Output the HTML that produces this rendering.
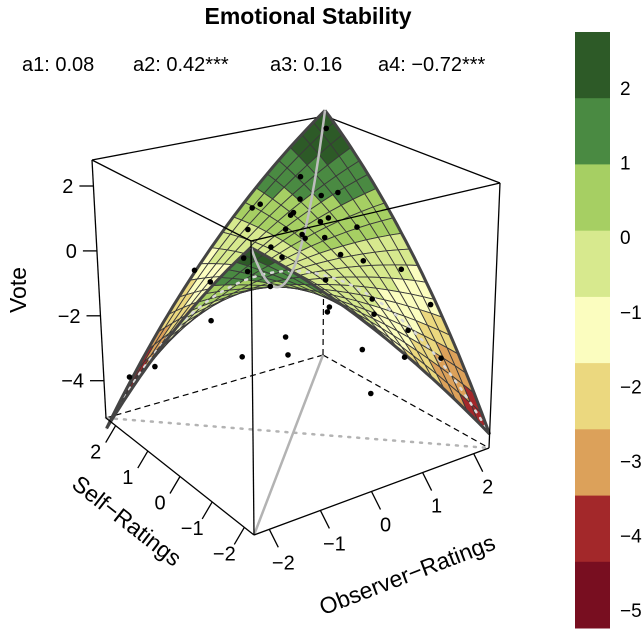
<!DOCTYPE html>
<html><head><meta charset="utf-8">
<style>
html,body{margin:0;padding:0;background:#fff;}
svg text{font-family:"Liberation Sans",Arial,sans-serif;fill:#000;}
</style></head>
<body>
<svg id="chart" width="644" height="630" viewBox="0 0 644 630" xmlns="http://www.w3.org/2000/svg">
<text x="308" y="24" font-size="23" font-weight="bold" text-anchor="middle">Emotional Stability</text>
<text x="22" y="71" font-size="20">a1: 0.08</text>
<text x="133" y="71" font-size="20">a2: 0.42***</text>
<text x="270" y="71" font-size="20">a3: 0.16</text>
<text x="378" y="71" font-size="20">a4: −0.72***</text>
<text transform="translate(26,290) rotate(-90)" font-size="23" text-anchor="middle">Vote</text>
<text transform="translate(122,527) rotate(38)" font-size="23" text-anchor="middle">Self−Ratings</text>
<text transform="translate(410,582) rotate(-21)" font-size="23" text-anchor="middle">Observer−Ratings</text>
<g id="back"></g><g id="surf"></g><g id="front"></g><g id="cbar"></g>
</svg>
<script>
// data
const ratingTicks = [-2,-1,0,1,2];
const voteTicks = [2,0,-2,-4];
const colorbarTicks = [2,1,0,-1,-2,-3,-4,-5];
const bandColors = ["#2d5a27","#4a8a42","#a6cf63","#d7e98e","#fbfdbf","#ebd87f","#dca15a","#a3282a","#780e20"];
const coefB0 = -0.09, coefB1 = 0.12, coefB2 = -0.04, coefB3 = -0.10, coefB4 = 0.747, coefB5 = -0.10;
const obsPts  = [2.1,1.3,1.6,0.2,0.6,0.9,-0.1,0.4,1.0,1.4,0.0,-0.4,0.8,1.2,0.3,-0.6,-0.2,0.5,1.1,1.7,0.7,-0.9,-1.2,0.1,0.9,1.5,-0.3,0.4,1.3,-1.5,-0.8,0.2,0.6,1.0,-1.9,0.3,1.8,2.0,-1.4,0.0,0.5,-0.5,1.2,0.8];
const selfPts = [2.0,1.6,1.0,1.4,0.9,0.5,1.1,0.3,1.2,0.2,0.6,0.8,-0.2,0.7,-0.5,0.4,0.0,0.9,-0.4,-0.6,0.1,1.5,0.6,-0.9,-1.0,-1.1,-0.3,-1.4,-1.3,1.9,1.2,-0.7,0.5,-0.8,2.1,-1.8,-1.6,-1.0,-0.6,0.2,1.6,-0.1,0.9,1.1];
const votePts = [2.6,1.5,1.2,1.0,0.9,0.8,0.6,0.7,1.1,0.6,0.3,0.0,0.2,0.7,-0.2,-0.1,0.4,0.5,0.0,-0.4,0.6,-0.6,-0.3,-0.7,-1.2,-1.9,-2.3,-1.8,-2.5,-3.6,-2.0,-1.0,0.4,-0.9,-3.9,-2.8,-2.6,-1.4,-1.7,-2.2,0.9,-0.3,1.3,0.8];
</script>
<script>
const NS="http://www.w3.org/2000/svg";
const R=2.3, ZMIN=-5.15, ZMAX=2.8;
const F0=[254,535],R0=[489,448],L0=[106,418],B0=[323,355];
const F1=[251,241],R1=[500,183],L1=[92,160],B1=[325,116];
function bil(a,b,c,d,u,v){return [a[0]*(1-u)*(1-v)+b[0]*u*(1-v)+c[0]*(1-u)*v+d[0]*u*v, a[1]*(1-u)*(1-v)+b[1]*u*(1-v)+c[1]*(1-u)*v+d[1]*u*v];}
function P(o,s,z){const u=(o+R)/(2*R),v=(s+R)/(2*R),w=(z-ZMIN)/(ZMAX-ZMIN);
 const b=bil(F0,R0,L0,B0,u,v),t=bil(F1,R1,L1,B1,u,v);return [b[0]+(t[0]-b[0])*w,b[1]+(t[1]-b[1])*w];}
function surfZ(x,y){return coefB0+coefB1*x+coefB2*y+coefB3*x*x+coefB4*x*y+coefB5*y*y;}
function zColor(z){const cmax=2.75,cmin=-5.24;let i=Math.floor((cmax-z)/((cmax-cmin)/9));i=Math.max(0,Math.min(8,i));return bandColors[i];}
function mk(g,tag,attrs){const e=document.createElementNS(NS,tag);for(const k in attrs)e.setAttribute(k,attrs[k]);document.getElementById(g).appendChild(e);return e;}
function line(g,a,b,st){return mk(g,'line',Object.assign({x1:a[0].toFixed(1),y1:a[1].toFixed(1),x2:b[0].toFixed(1),y2:b[1].toFixed(1)},st));}
const solid={stroke:'#000','stroke-width':1.3};
let e;
e=line('back',L1,B1,solid);
e=line('back',B1,R1,solid);
const dash={stroke:'#000','stroke-width':1.2,'stroke-dasharray':'6,4'};
e=line('back',B0,L0,dash);
e=line('back',B0,R0,dash);
e=line('back',B0,P(R,R,-1.2),dash);
e=line('back',F0,B0,{stroke:'#b3b3b3','stroke-width':2.5});
e=line('back',L0,R0,{stroke:'#b3b3b3','stroke-width':2.5,'stroke-dasharray':'2,7','stroke-linecap':'round'});
const N=20,cells=[];
for(let i=0;i<N;i++)for(let j=0;j<N;j++){
 const o0=-R+2*R*i/N,o1=-R+2*R*(i+1)/N,s0=-R+2*R*j/N,s1=-R+2*R*(j+1)/N;
 const om=(o0+o1)/2,sm=(s0+s1)/2,w=(surfZ(om,sm)-ZMIN)/(ZMAX-ZMIN);
 cells.push({o0,o1,s0,s1,d:((om+sm)/(2*R))*0.75-w*0.55});}
cells.sort((a,b)=>b.d-a.d);
cells.forEach(c=>{
 const pts=[[c.o0,c.s0],[c.o1,c.s0],[c.o1,c.s1],[c.o0,c.s1]].map(p=>P(p[0],p[1],surfZ(p[0],p[1])));
 const zm=surfZ((c.o0+c.o1)/2,(c.s0+c.s1)/2);
 const el=mk('surf','polygon',{points:pts.map(p=>p[0].toFixed(1)+','+p[1].toFixed(1)).join(' '),fill:zColor(zm),stroke:'#3a3a3a','stroke-width':0.9});
 
 
});
function edgePath(f){let d='';for(let k=0;k<=40;k++){const t=-R+2*R*k/40;const p=f(t);d+=(k?'L':'M')+p[0].toFixed(1)+','+p[1].toFixed(1);}return d;}
e=mk('surf','path',{d:edgePath(t=>P(t,-t,surfZ(t,-t))),fill:'none',stroke:'#d9d9d9','stroke-width':2.5,'stroke-dasharray':'2,7','stroke-linecap':'round'});

[[t=>P(t,-R,surfZ(t,-R)),'surface-edge-front-right'],[t=>P(-R,t,surfZ(-R,t)),'surface-edge-front-left'],[t=>P(t,R,surfZ(t,R)),'surface-edge-back-left'],[t=>P(R,t,surfZ(R,t)),'surface-edge-back-right']].forEach(a=>{
 const el=mk('surf','path',{d:edgePath(a[0]),fill:'none',stroke:'#444','stroke-width':3});
 
 
});
e=mk('surf','path',{d:edgePath(t=>P(t,t,surfZ(t,t))),fill:'none',stroke:'#bdbdbd','stroke-width':2.5});

for(let i=0;i<obsPts.length;i++){const p=P(obsPts[i],selfPts[i],votePts[i]);
 const el=mk('front','circle',{cx:p[0].toFixed(1),cy:p[1].toFixed(1),r:2.8,fill:'#000'});
 
 }
[[F0,L0,'box-edge-bottom-left'],[F0,R0,'box-edge-bottom-right'],[L0,L1,'box-edge-left-vertical'],[R0,R1,'box-edge-right-vertical'],[F0,F1,'box-edge-front-vertical'],[L1,F1,'box-edge-top-front-left'],[F1,R1,'box-edge-top-front-right']].forEach(a=>{
 const el=line('front',a[0],a[1],solid);
 
 });
voteTicks.forEach(v=>{const p=P(-R,R,v);
 const t=line('front',p,[p[0]-14,p[1]],solid);
 const l=mk('front','text',{x:(p[0]-20).toFixed(1),y:(p[1]+7).toFixed(1),'font-size':20,'text-anchor':'end'});l.textContent=String(v).replace('-','−');
 });
ratingTicks.forEach(v=>{const p=P(-R,v,ZMIN);
 const t=line('front',p,[p[0]-10,p[1]+17],solid);
 const l=mk('front','text',{x:(p[0]-20).toFixed(1),y:(p[1]+33).toFixed(1),'font-size':20,'text-anchor':'middle'});l.textContent=String(v).replace('-','−');
 
 const q=P(v,-R,ZMIN);
 const t2=line('front',q,[q[0]+9,q[1]+18],solid);
 const l2=mk('front','text',{x:(q[0]+14).toFixed(1),y:(q[1]+40).toFixed(1),'font-size':20,'text-anchor':'middle'});l2.textContent=String(v).replace('-','−');
 });
const cbTop=32,cbBot=628,cbH=(cbBot-cbTop)/9;
bandColors.forEach((c,i)=>{const r=mk('cbar','rect',{x:575,y:(cbTop+i*cbH).toFixed(1),width:35,height:(cbH+0.5).toFixed(1),fill:c});
 });
colorbarTicks.forEach(v=>{const y=88+(2-v)*74.6;
 const l=mk('cbar','text',{x:620,y:(y+7).toFixed(1),'font-size':19});l.textContent=String(v).replace('-','−');
 });
</script>
</body></html>
